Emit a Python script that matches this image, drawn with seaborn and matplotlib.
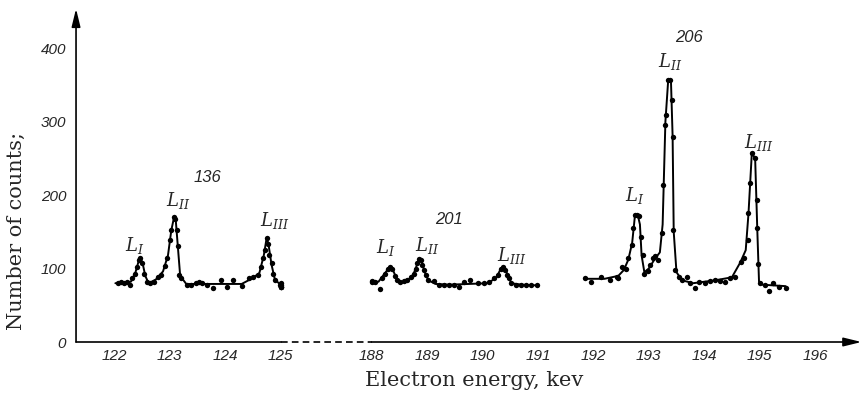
import numpy as np
import pandas as pd
import matplotlib
matplotlib.use('Agg')
import matplotlib.pyplot as plt
import seaborn as sns

# measured points: electron energy (keV) and number of counts
e_136 = [122.06, 122.12, 122.18, 122.23, 122.29, 122.32, 122.37, 122.41, 122.44, 122.47,
         122.50, 122.53, 122.59, 122.65, 122.71, 122.79, 122.85, 122.91, 122.95, 123.00,
         123.03, 123.08, 123.10, 123.13, 123.15, 123.16, 123.20, 123.31, 123.38, 123.47,
         123.53, 123.59, 123.68, 123.79, 123.92, 124.03, 124.15, 124.30, 124.44, 124.50,
         124.59, 124.65, 124.68, 124.72, 124.75, 124.77, 124.80, 124.84, 124.86, 124.91,
         125.00, 125.06, 125.12, 125.20, 125.32, 125.41]
n_136 = [80, 82, 80, 81, 78, 87, 92, 102, 111, 114,
         107, 93, 82, 80, 82, 89, 91, 104, 114, 139,
         152, 170, 168, 152, 130, 91, 87, 78, 78, 80,
         81, 80, 78, 74, 84, 75, 85, 76, 87, 89,
         91, 102, 114, 125, 141, 134, 118, 107, 93, 84,
         78, 75, 75, 80, 78, 75]

e_201 = [187.94, 188.00, 188.06, 188.14, 188.18, 188.24, 188.30, 188.33, 188.36, 188.41,
         188.45, 188.51, 188.58, 188.64, 188.70, 188.76, 188.79, 188.82, 188.85, 188.88,
         188.91, 188.94, 188.97, 189.01, 189.12, 189.21, 189.30, 189.39, 189.48, 189.57,
         189.66, 189.78, 189.91, 190.03, 190.12, 190.21, 190.27, 190.33, 190.37, 190.41,
         190.44, 190.48, 190.51, 190.60, 190.69, 190.78, 190.87, 190.99]
n_201 = [83, 81, 81, 72, 87, 93, 100, 102, 99, 90,
         84, 81, 83, 85, 88, 93, 100, 107, 113, 112,
         105, 98, 91, 84, 83, 78, 78, 78, 78, 75,
         81, 85, 80, 80, 82, 87, 91, 100, 102, 98,
         91, 87, 80, 78, 78, 78, 78, 77]

e_206 = [191.84, 191.96, 192.14, 192.30, 192.42, 192.45, 192.51, 192.58, 192.62, 192.69,
         192.72, 192.75, 192.79, 192.83, 192.86, 192.89, 192.92, 192.98, 193.02, 193.08,
         193.12, 193.16, 193.23, 193.26, 193.29, 193.31, 193.35, 193.38, 193.41, 193.43,
         193.44, 193.48, 193.54, 193.60, 193.69, 193.75, 193.84, 193.90, 194.02, 194.11,
         194.20, 194.29, 194.38, 194.47, 194.56, 194.66, 194.72, 194.79, 194.80, 194.82,
         194.86, 194.91, 194.95, 194.96, 194.98, 195.01, 195.10, 195.17, 195.25, 195.35,
         195.47]
n_206 = [87, 82, 88, 85, 89, 87, 102, 100, 114, 132,
         155, 173, 173, 171, 143, 118, 92, 96, 105, 114,
         117, 112, 148, 214, 295, 309, 356, 356, 329, 279,
         152, 98, 89, 84, 89, 80, 73, 82, 80, 83,
         84, 83, 82, 87, 88, 109, 114, 139, 175, 216,
         257, 250, 193, 155, 106, 80, 78, 70, 80, 75,
         73]

# smooth curves drawn through the points
ce_136 = [122.02, 122.30, 122.38, 122.44, 122.47, 122.51, 122.56, 122.62, 122.75, 122.88,
          122.97, 123.03, 123.08, 123.11, 123.15, 123.19, 123.30, 124.30, 124.50, 124.62,
          124.70, 124.75, 124.78, 124.84, 124.90, 125.00, 125.15, 125.42]
cn_136 = [80, 82, 94, 110, 114, 108, 90, 80, 85, 96,
          118, 152, 170, 166, 128, 90, 79, 79, 87, 94,
          118, 141, 135, 105, 85, 78, 76, 76]

ce_201 = [187.94, 188.12, 188.22, 188.30, 188.33, 188.38, 188.45, 188.52, 188.65, 188.75,
          188.82, 188.86, 188.90, 188.95, 189.02, 189.15, 189.40, 190.10, 190.25, 190.33,
          190.37, 190.42, 190.47, 190.52, 190.70, 191.00]
cn_201 = [82, 82, 92, 100, 102, 98, 86, 80, 84, 92,
          106, 113, 110, 96, 84, 79, 78, 80, 88, 100,
          102, 97, 88, 80, 78, 77]

ce_206 = [191.84, 192.20, 192.45, 192.55, 192.63, 192.70, 192.75, 192.80, 192.84, 192.87,
          192.92, 193.00, 193.10, 193.20, 193.25, 193.30, 193.35, 193.40, 193.43, 193.45,
          193.50, 193.60, 193.80, 194.20, 194.50, 194.65, 194.75, 194.80, 194.86, 194.92,
          194.96, 194.99, 195.05, 195.47]
cn_206 = [86, 86, 90, 98, 112, 135, 172, 173, 160, 118,
          95, 100, 112, 122, 160, 300, 356, 356, 280, 150,
          95, 84, 80, 84, 88, 108, 125, 175, 257, 250,
          150, 82, 78, 76]

x_ticks = [122, 123, 124, 125, 188, 189, 190, 191, 192, 193, 194, 195, 196]
y_ticks = [0, 100, 200, 300, 400]

# line labels
peak_e = [122.37, 123.15, 124.89, 188.25, 189.00, 190.52, 192.75, 193.39, 194.99]
peak_n = [132, 193, 165, 128, 132, 118, 199, 382, 272]
peak_txt = [r'$L_{I}$', r'$L_{II}$', r'$L_{III}$'] * 3
group_e = [123.69, 189.40, 193.72]
group_n = [224, 167, 414]
group_txt = ['136', '201', '206']


# broken energy axis: 125..188 keV squeezed into a short dashed gap
def fwd(e):
    e = np.asarray(e, dtype=float)
    return np.where(e <= 125, e - 122,
                    np.where(e >= 188, e - 188 + 4.65, 3 + (e - 125) * 1.65 / 63))


def inv(d):
    d = np.asarray(d, dtype=float)
    return np.where(d <= 3, d + 122,
                    np.where(d >= 4.65, d - 4.65 + 188, 125 + (d - 3) * 63 / 1.65))


pts = pd.concat([
    pd.DataFrame({'energy': e_136, 'counts': n_136, 'group': '136'}),
    pd.DataFrame({'energy': e_201, 'counts': n_201, 'group': '201'}),
    pd.DataFrame({'energy': e_206, 'counts': n_206, 'group': '206'}),
])
curves = pd.concat([
    pd.DataFrame({'energy': ce_136, 'counts': cn_136, 'group': '136'}),
    pd.DataFrame({'energy': ce_201, 'counts': cn_201, 'group': '201'}),
    pd.DataFrame({'energy': ce_206, 'counts': cn_206, 'group': '206'}),
])

sns.set_style('white')
plt.rcParams['mathtext.fontset'] = 'dejavuserif'

fig = plt.figure(figsize=(8.66, 3.98), dpi=100)
ax = fig.add_axes([0.0878, 0.1407, 0.907, 0.829])
ax.set_xscale('function', functions=(fwd, inv))

sns.lineplot(data=curves, x='energy', y='counts', units='group', estimator=None,
             sort=False, color='black', lw=1.4, ax=ax)
sns.scatterplot(data=pts, x='energy', y='counts', color='black', s=15,
                linewidth=0, ax=ax)

ax.set_xlim(121.31, 196.84)
ax.set_ylim(0, 449)
for s in ax.spines.values():
    s.set_visible(False)

# hand-made axes with arrows and a dashed break
ax.plot([121.31, x_ticks[3] + 0.05], [0, 0], color='black', lw=1.2, clip_on=False)
ax.plot([x_ticks[3] + 0.05, x_ticks[4] - 0.05], [0, 0], color='black', lw=1.2,
        ls=(0, (4, 2.5)), clip_on=False)
arrow = dict(arrowstyle='-|>,head_length=0.9,head_width=0.22', color='black', lw=1.2,
             shrinkA=0, shrinkB=0, mutation_scale=12)
ax.annotate('', xy=(196.84, 0), xytext=(x_ticks[4] - 0.05, 0), arrowprops=arrow,
            annotation_clip=False)
ax.annotate('', xy=(0, 1.01), xytext=(0, 0), xycoords='axes fraction', arrowprops=arrow,
            annotation_clip=False)

ax.set_xticks(x_ticks)
ax.set_yticks(y_ticks)
ax.set_xticklabels([str(t) for t in x_ticks])
ax.set_yticklabels([str(t) for t in y_ticks])
ax.tick_params(axis='y', direction='in', length=6.5, width=1.1, pad=7, labelsize=11)
ax.tick_params(axis='x', direction='in', length=4.5, width=1.1, pad=5, labelsize=11)
for lab in ax.get_xticklabels() + ax.get_yticklabels():
    lab.set_fontfamily('Liberation Sans')
    lab.set_fontstyle('italic')
ax.set_xlabel('')
ax.set_ylabel('')

for e, n, t in zip(peak_e, peak_n, peak_txt):
    ax.text(e, n, t, ha='center', va='center', fontsize=13)
for e, n, t in zip(group_e, group_n, group_txt):
    ax.text(e, n, t, ha='center', va='center', fontsize=12,
            family='Liberation Sans', style='italic')

fig.text(0.548, 0.045, 'Electron energy, kev', ha='center', va='center',
         family='DejaVu Serif', fontsize=15)
fig.text(0.019, 0.42, 'Number of counts;', ha='center', va='center', rotation=90,
         family='DejaVu Serif', fontsize=15)

fig.savefig('out.png', dpi=100)
